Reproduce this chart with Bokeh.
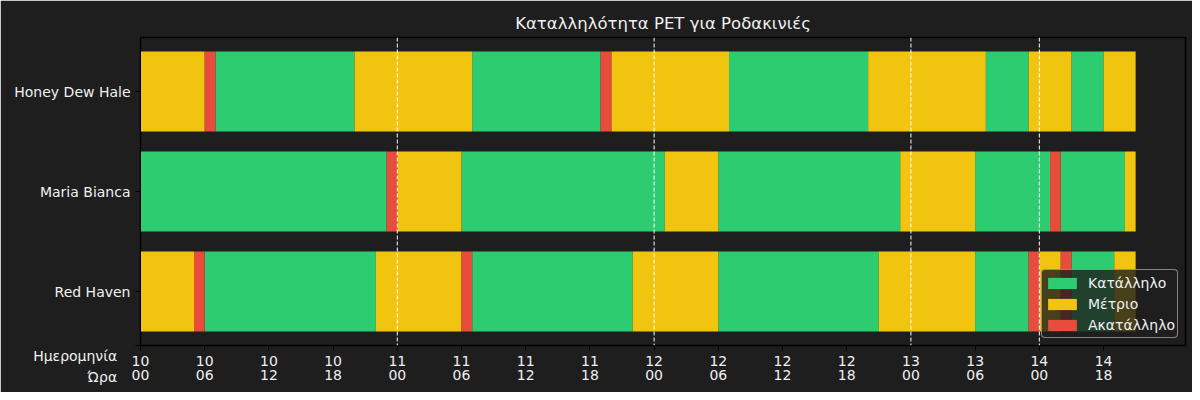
from bokeh.plotting import figure
from bokeh.models import (ColumnDataSource, Range1d, FixedTicker, Span,
                          Legend, LegendItem)
from bokeh.embed import file_html
from bokeh.resources import INLINE
import numpy as np

# ---- data ----
cultivars = ["Red Haven", "Maria Bianca", "Honey Dew Hale"]  # bottom -> top
status_names = ["Κατάλληλο", "Μέτριο", "Ακατάλληλο"]
status_colors = ["#2ecc71", "#f1c40f", "#e74c3c"]

# run-length encoded hourly status: G = suitable, Y = moderate, R = unsuitable
honey_status = ["Y", "R", "G", "Y", "G", "R", "Y", "G", "Y", "G", "Y", "G", "Y"]
honey_hours = [6, 1, 13, 11, 12, 1, 11, 13, 11, 4, 4, 3, 3]

maria_status = ["G", "R", "Y", "G", "Y", "G", "Y", "G", "R", "G", "Y"]
maria_hours = [23, 1, 6, 19, 5, 17, 7, 7, 1, 6, 1]

redhaven_status = ["Y", "R", "G", "Y", "R", "G", "Y", "G", "Y", "G", "R", "Y", "R", "G", "Y"]
redhaven_hours = [5, 1, 16, 8, 1, 15, 8, 15, 9, 5, 1, 2, 1, 4, 2]

tick_positions = [0, 6, 12, 18, 24, 30, 36, 42, 48, 54, 60, 66, 72, 78, 84, 90]
tick_labels = ["10\n00", "10\n06", "10\n12", "10\n18",
               "11\n00", "11\n06", "11\n12", "11\n18",
               "12\n00", "12\n06", "12\n12", "12\n18",
               "13\n00", "13\n06", "14\n00", "14\n18"]
day_starts = [24, 48, 72, 84]
xaxis_caption = "Ημερομηνία\nΏρα"

FONT = "DejaVu Sans"
TXT = "#f0f0f0"
BG = "#1e1e1e"

rows = {
    "Red Haven": (redhaven_status, redhaven_hours),
    "Maria Bianca": (maria_status, maria_hours),
    "Honey Dew Hale": (honey_status, honey_hours),
}
code_map = {"G": 0, "Y": 1, "R": 2}

segs = {k: dict(left=[], right=[], bottom=[], top=[]) for k in range(3)}
for yi, name in enumerate(cultivars):
    st, hrs = rows[name]
    ends = np.cumsum(hrs)
    starts = ends - np.array(hrs)
    for s, a, b in zip(st, starts, ends):
        d = segs[code_map[s]]
        d["left"].append(float(a))
        d["right"].append(float(b))
        d["bottom"].append(yi - 0.4)
        d["top"].append(yi + 0.4)

Y0 = -0.54
p = figure(width=1192, height=392, output_backend="svg", toolbar_location=None,
           x_range=Range1d(0, 97.66), y_range=Range1d(Y0, 2.54),
           min_border_left=140, min_border_right=7, min_border_top=37,
           min_border_bottom=47,
           title="Καταλληλότητα PET για Ροδακινιές")
p.background_fill_color = BG
p.border_fill_color = BG
p.outline_line_color = "black"
p.outline_line_width = 1.5
p.grid.visible = False

p.title.align = "center"
p.title.text_font = FONT
p.title.text_font_size = "16.5px"
p.title.text_font_style = "normal"
p.title.text_color = TXT

renderers = []
for k in range(3):
    r = p.quad(source=ColumnDataSource(segs[k]), left="left", right="right",
               bottom="bottom", top="top", fill_color=status_colors[k],
               line_color=None)
    renderers.append(r)

for d in day_starts:
    p.add_layout(Span(location=d, dimension="height", line_color="white",
                      line_dash="4 2", line_width=1))

for ax in (p.xaxis[0], p.yaxis[0]):
    ax.axis_line_color = "black"
    ax.major_tick_line_color = "black"
    ax.minor_tick_line_color = None
    ax.major_tick_out = 5
    ax.major_tick_in = 0
    ax.major_label_text_font = FONT
    ax.major_label_text_font_size = "14px"
    ax.major_label_text_color = TXT

p.xaxis.major_label_standoff = 2
p.xaxis.major_label_text_line_height = 0.92
p.xaxis.ticker = FixedTicker(ticks=tick_positions)
p.xaxis.major_label_overrides = {t: l for t, l in zip(tick_positions, tick_labels)}

# the caption of the date/hour rows sits at the lower left corner
NB = "\u00a0\u00a0\u00a0"
caption = "\n\n" + "\n".join(line + NB for line in xaxis_caption.split("\n"))
p.yaxis.major_label_standoff = 5
p.yaxis.major_label_text_line_height = 1.32
p.yaxis.ticker = FixedTicker(ticks=[Y0, 0, 1, 2])
overrides = {i: n for i, n in enumerate(cultivars)}
overrides[Y0] = caption
p.yaxis.major_label_overrides = overrides

legend = Legend(items=[LegendItem(label=status_names[k], renderers=[renderers[k]])
                       for k in range(3)],
                location="bottom_right")
legend.background_fill_color = BG
legend.background_fill_alpha = 0.8
legend.border_line_color = "#cccccc"
legend.border_line_alpha = 0.6
if "border_radius" in Legend.properties():
    legend.border_radius = 4
legend.label_text_font = FONT
legend.label_text_font_size = "14px"
legend.label_text_color = TXT
legend.glyph_width = 36
legend.glyph_height = 14
legend.label_height = 21
legend.spacing = 0
legend.padding = 2
legend.label_standoff = 8
legend.margin = 7
p.add_layout(legend, "center")

open("out.html", "w").write(file_html(p, INLINE))
